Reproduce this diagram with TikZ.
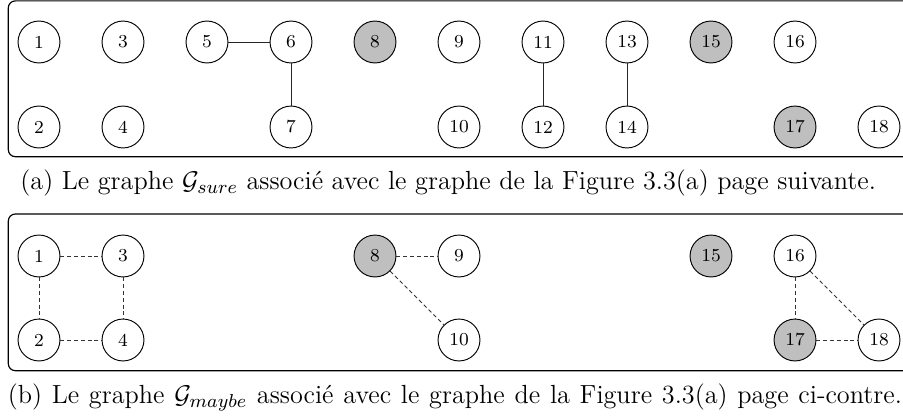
\documentclass[tikz,border=0pt]{standalone}
\usepackage{fontspec}
\begin{document}
\begin{tikzpicture}[x=0.427pt,y=-0.427pt,
  vtx/.style={circle,draw=black,line width=0.4pt,minimum size=17.9pt,inner sep=0pt,font=\fontsize{7.8}{9}\selectfont},
  grayvtx/.style={vtx,fill=black!25},
  frame/.style={draw=black,line width=0.5pt,rounded corners=3pt},
  sure/.style={draw=black!85,line width=0.4pt},
  maybe/.style={draw=black!80,line width=0.35pt,dash pattern=on 1.7pt off 1.2pt},
  capt/.style={anchor=base west,inner sep=0pt,font=\fontsize{11.2}{13}\selectfont}]
\useasboundingbox (0,0) rectangle (903,416);
\clip (0,0) rectangle (903,416);
% ---------- panel (a)
\draw[frame] (8.3,0.9) rectangle (925,156.7);
\node[vtx] (a1) at (39,42) {1};
\node[vtx] (a2) at (39,127) {2};
\node[vtx] (a3) at (123,42) {3};
\node[vtx] (a4) at (123,127) {4};
\node[vtx] (a5) at (207,42) {5};
\node[vtx] (a6) at (291,42) {6};
\node[vtx] (a7) at (291,127) {7};
\node[grayvtx] (a8) at (375,42) {8};
\node[vtx] (a9) at (459,42) {9};
\node[vtx] (a10) at (459,127) {10};
\node[vtx] (a11) at (543,42) {11};
\node[vtx] (a12) at (543,127) {12};
\node[vtx] (a13) at (627,42) {13};
\node[vtx] (a14) at (627,127) {14};
\node[grayvtx] (a15) at (711,42) {15};
\node[vtx] (a16) at (795,42) {16};
\node[grayvtx] (a17) at (795,127) {17};
\node[vtx] (a18) at (879,127) {18};
\draw[sure] (a5) -- (a6);
\draw[sure] (a6) -- (a7);
\draw[sure] (a11) -- (a12);
\draw[sure] (a13) -- (a14);
\node[capt] (capa) at (20,189.5) {(a) Le graphe $\mathcal{G}_{sure}$ associé avec le graphe de la Figure 3.3(a) page suivante.};
% ---------- panel (b)
\draw[frame] (8.3,214) rectangle (925,370.7);
\node[vtx] (b1) at (39,256) {1};
\node[vtx] (b2) at (39,340) {2};
\node[vtx] (b3) at (123,256) {3};
\node[vtx] (b4) at (123,340) {4};
\node[grayvtx] (b8) at (375,256) {8};
\node[vtx] (b9) at (459,256) {9};
\node[vtx] (b10) at (459,340) {10};
\node[grayvtx] (b15) at (711,256) {15};
\node[vtx] (b16) at (795,256) {16};
\node[grayvtx] (b17) at (795,340) {17};
\node[vtx] (b18) at (879,340) {18};
\draw[maybe] (b1) -- (b3);
\draw[maybe] (b1) -- (b2);
\draw[maybe] (b3) -- (b4);
\draw[maybe] (b2) -- (b4);
\draw[maybe] (b8) -- (b9);
\draw[maybe] (b8) -- (b10);
\draw[maybe] (b16) -- (b17);
\draw[maybe] (b16) -- (b18);
\draw[maybe] (b17) -- (b18);
\node[capt] (captb) at (7.3,403.5) {\spaceskip=1.14\fontdimen2\font (b) Le graphe $\mathcal{G}_{maybe}$ associé avec le graphe de la Figure 3.3(a) page ci-contre.};
\end{tikzpicture}
\end{document}
